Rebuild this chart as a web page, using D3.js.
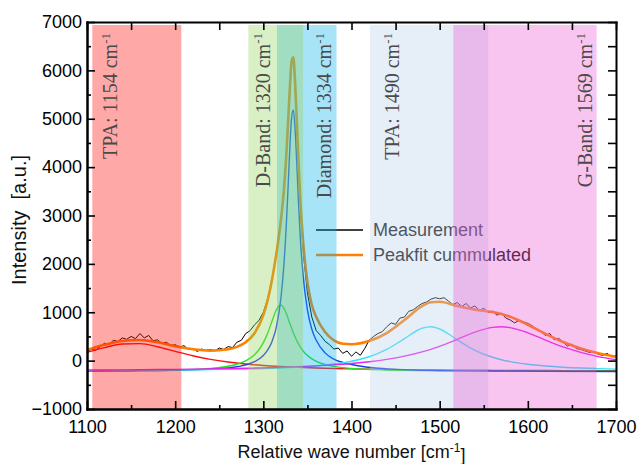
<!DOCTYPE html>
<html lang="en">
<head>
<meta charset="UTF-8">
<title>Raman spectrum peak fit</title>
<script src="https://d3js.org/d3.v7.min.js"></script>
<style>
  body { margin: 0; background: #fff; }
  svg text { font-family: "Liberation Sans", Arial, sans-serif; }
</style>
</head>
<body>
<svg width="641" height="464"></svg>
<script>
// measured spectrum
var measWave = [1100,1105,1110,1115,1120,1125,1130,1135,1140,1145,1150,1155,1160,1165,1170,1175,1180,1185,1190,1195,
  1200,1205,1210,1215,1220,1225,1230,1235,1240,1245,1250,1255,1260,1265,1270,1275,1280,1285,1290,1295,
  1300,1305,1310,1315,1320,1325,1328,1330,1332,1334,1336,1338,1340,1342,1345,
  1350,1355,1360,1365,1370,1375,1380,1385,1390,1395,1400,1405,1410,1415,1420,1425,1430,1435,1440,1445,
  1450,1455,1460,1465,1470,1475,1480,1485,1490,1495,1500,1505,1510,1515,1520,1525,1530,1535,1540,1545,
  1550,1555,1560,1565,1570,1575,1580,1585,1590,1595,1600,1605,1610,1615,1620,1625,1630,1635,1640,1645,
  1650,1655,1660,1665,1670,1675,1680,1685,1690,1695,1700];
var measured = [190,230,215,290,360,330,420,395,470,440,500,455,560,470,520,410,430,350,380,310,
  330,280,310,230,250,190,240,210,230,200,260,230,290,270,380,420,560,620,740,830,
  1000,1280,1700,2250,2900,3900,4850,5560,6120,6260,5720,4880,3980,3200,2300,
  1400,900,620,520,400,330,240,260,150,200,90,180,110,250,420,500,560,600,700,780,
  750,880,900,1020,1050,1120,1180,1210,1270,1300,1280,1300,1230,1160,1200,1120,1180,1090,1130,1040,
  1080,1000,1020,940,980,880,840,780,830,800,770,720,650,600,520,560,430,460,380,300,
  340,250,230,200,170,190,130,110,150,80,100];

// cumulated peak fit
var fitWave = [1100,1120,1140,1160,1180,1200,1220,1240,1260,1270,1280,1290,1300,1305,1310,1315,1320,1323,1326,1328,
  1330,1332,1334,1336,1338,1340,1342,1345,1350,1355,1360,1370,1380,1390,1400,1420,1440,1460,1480,1490,
  1500,1520,1540,1560,1570,1580,1600,1620,1640,1660,1680,1700];
var fitSum = [222,326,406,425,378,300,236,207,234,285,381,567,940,1255,1687,2237,2914,3458,4230,4900,
  5613,6180,6270,5753,4932,4052,3300,2480,1620,1150,900,590,420,350,340,406,570,838,1126,1207,
  1217,1129,1054,1006,966,907,742,553,384,252,153,78];

// broad components (TPA 1154, TPA 1490, G-band 1569)
var broadWave = [1100,1120,1140,1160,1180,1200,1220,1240,1260,1280,1300,1320,1340,1360,1380,1400,1420,1440,1460,1480,
  1490,1500,1520,1540,1560,1570,1580,1600,1620,1640,1660,1680,1700];
var tpa1154 = [173,270,343,351,288,192,100,26,-29,-70,-100,-122,-139,-152,-162,-170,-177,-182,-187,-191,
  -192,-194,-196,-199,-201,-202,-202,-204,-205,-206,-207,-208,-209];
var tpa1490 = [-206,-205,-203,-201,-198,-195,-192,-187,-181,-174,-164,-151,-134,-108,-71,-13,80,231,454,669,
  700,654,429,212,69,19,-20,-75,-111,-136,-153,-165,-175];
var gBand = [-195,-193,-191,-188,-184,-181,-176,-171,-165,-158,-149,-138,-124,-108,-86,-58,-22,26,92,180,
  234,296,440,588,688,700,682,575,425,283,170,84,21];

// D-band component
var dWave = [1100,1150,1200,1240,1260,1270,1280,1290,1295,1300,1305,1310,1314,1317,1320,1322,1325,1330,1335,1340,
  1345,1350,1360,1370,1380,1400,1440,1500,1560,1620,1700];
var dBand = [-212,-206,-193,-160,-117,-75,-6,122,225,372,573,824,1020,1121,1149,1121,1020,772,528,338,
  202,105,-15,-81,-120,-162,-193,-208,-213,-216,-217];

// diamond component
var diaWave = [1100,1150,1200,1240,1260,1280,1290,1300,1305,1310,1315,1320,1323,1326,1328,1330,1332,1334,1336,1338,
  1340,1342,1345,1350,1355,1360,1370,1380,1400,1440,1500,1560,1620,1700];
var diamond = [-213,-208,-198,-176,-149,-87,-22,106,220,402,715,1301,1899,2789,3555,4371,5009,5182,4794,4050,
  3235,2519,1780,1050,650,420,160,30,-80,-170,-206,-214,-220,-224];

// highlighted bands
var bandNames = ["TPA: 1154 cm", "D-Band: 1320 cm", "Diamond: 1334 cm", "TPA: 1490 cm", "G-Band: 1569 cm"];
var bandFrom = [1106, 1283, 1315.5, 1421, 1515.5];
var bandTo = [1207, 1345, 1383, 1555, 1678];
var bandLabelAt = [1134, 1307, 1377, 1454, 1673];
var bandColors = ["rgb(255,6,6)", "rgb(146,209,92)", "rgb(6,178,235)", "rgb(184,206,235)", "rgb(235,86,212)"];

var xTicks = [1100,1200,1300,1400,1500,1600,1700];
var xMinor = [1150,1250,1350,1450,1550,1650];
var yTicks = [-1000,0,1000,2000,3000,4000,5000,6000,7000];
var yMinor = [-500,500,1500,2500,3500,4500,5500,6500];

var svg = d3.select("svg");
var padL = 87, padR = 616, padT = 22, padB = 409;

var x = d3.scaleLinear().domain([1100, 1700]).range([padL, padR]);
var y = d3.scaleLinear().domain([-1000, 7000]).range([padB, padT]);

function pts(xs, ys) { return xs.map(function(v, i) { return [v, ys[i]]; }); }

var line = d3.line().x(function(d) { return x(d[0]); }).y(function(d) { return y(d[1]); });
var smooth = d3.line().curve(d3.curveMonotoneX)
  .x(function(d) { return x(d[0]); }).y(function(d) { return y(d[1]); });

var plot = svg.append("g");

// measurement
plot.append("path").datum(pts(measWave, measured))
  .attr("d", line).attr("fill", "none").attr("stroke", "#000").attr("stroke-width", 1);

// components
var comps = [
  { xs: broadWave, ys: tpa1154, c: "#ff1010" },
  { xs: dWave, ys: dBand, c: "#22e022" },
  { xs: diaWave, ys: diamond, c: "#1a3cf0" },
  { xs: broadWave, ys: tpa1490, c: "#30e4f4" },
  { xs: broadWave, ys: gBand, c: "#f020f0" }
];
comps.forEach(function(s) {
  plot.append("path").datum(pts(s.xs, s.ys))
    .attr("d", smooth).attr("fill", "none").attr("stroke", s.c).attr("stroke-width", 1.4);
});

// cumulated fit
plot.append("path").datum(pts(fitWave, fitSum))
  .attr("d", smooth).attr("fill", "none").attr("stroke", "#ff8000").attr("stroke-width", 2.6);

// legend
var legend = svg.append("g").attr("transform", "translate(316,230)");
[["Measurement", "#000", 1.6], ["Peakfit cummulated", "#ff8000", 2.6]].forEach(function(d, i) {
  legend.append("line").attr("x1", 0).attr("x2", 47).attr("y1", i * 25).attr("y2", i * 25)
    .attr("stroke", d[1]).attr("stroke-width", d[2]);
  legend.append("text").attr("x", 57).attr("y", i * 25).attr("dy", "0.35em")
    .attr("font-size", 18).attr("fill", "#111").text(d[0]);
});

// translucent bands over the curves
var bandOrder = [0, 2, 1, 3, 4];
bandOrder.forEach(function(i) {
  svg.append("rect")
    .attr("x", x(bandFrom[i])).attr("width", x(bandTo[i]) - x(bandFrom[i]))
    .attr("y", 25).attr("height", padB - 25)
    .attr("fill", bandColors[i]).attr("fill-opacity", 0.35);
});

bandNames.forEach(function(name, i) {
  var t = svg.append("text")
    .attr("transform", "translate(" + x(bandLabelAt[i]) + ",33) rotate(-90)")
    .attr("text-anchor", "end")
    .style("font-family", "'Liberation Serif', 'Times New Roman', serif")
    .attr("font-size", 20).attr("fill", "#4a4a4a");
  t.append("tspan").text(name);
  t.append("tspan").attr("dy", "-0.55em").attr("font-size", 13).text("-1");
});

// axes with inward ticks
function frame(g) {
  g.selectAll(".domain").attr("stroke", "#000").attr("stroke-width", 2);
  g.selectAll(".tick line").attr("stroke", "#000").attr("stroke-width", 1.6);
  g.selectAll(".tick text").attr("font-size", 18).attr("fill", "#000")
    .style("font-family", "'Liberation Sans', Arial, sans-serif");
}
svg.append("g").attr("transform", "translate(0," + padB + ")")
  .call(d3.axisBottom(x).tickValues(xMinor).tickFormat("").tickSizeInner(-4).tickSizeOuter(0)).call(frame);
svg.append("g").attr("transform", "translate(0," + padB + ")")
  .call(d3.axisBottom(x).tickValues(xTicks).tickFormat(d3.format("d")).tickSizeInner(-8).tickSizeOuter(0).tickPadding(11)).call(frame);
svg.append("g").attr("transform", "translate(0," + padT + ")")
  .call(d3.axisTop(x).tickValues(xTicks.concat(xMinor)).tickFormat("").tickSizeInner(-8).tickSizeOuter(0)).call(frame);
svg.append("g").attr("transform", "translate(" + padL + ",0)")
  .call(d3.axisLeft(y).tickValues(yMinor).tickFormat("").tickSizeInner(-4).tickSizeOuter(0)).call(frame);
svg.append("g").attr("transform", "translate(" + padL + ",0)")
  .call(d3.axisLeft(y).tickValues(yTicks).tickFormat(d3.format("d")).tickSizeInner(-8).tickSizeOuter(0).tickPadding(5)).call(frame);
svg.append("g").attr("transform", "translate(" + padR + ",0)")
  .call(d3.axisRight(y).tickValues(yTicks.concat(yMinor)).tickFormat("").tickSizeInner(-8).tickSizeOuter(0)).call(frame);
svg.selectAll(".domain").attr("stroke-linecap", "square");

// axis titles
var xt = svg.append("text").attr("x", (padL + padR) / 2).attr("y", 458)
  .attr("text-anchor", "middle").attr("font-size", 18).attr("fill", "#111");
xt.append("tspan").text("Relative wave number [cm");
xt.append("tspan").attr("dy", "-0.5em").attr("font-size", 12).text("-1");
xt.append("tspan").attr("dy", "0.5em").text("]");

svg.append("text")
  .attr("transform", "translate(26,220) rotate(-90)")
  .attr("text-anchor", "middle").attr("font-size", 20).attr("fill", "#111")
  .style("white-space", "pre")
  .text("Intensity  [a.u.]");
</script>
</body>
</html>
